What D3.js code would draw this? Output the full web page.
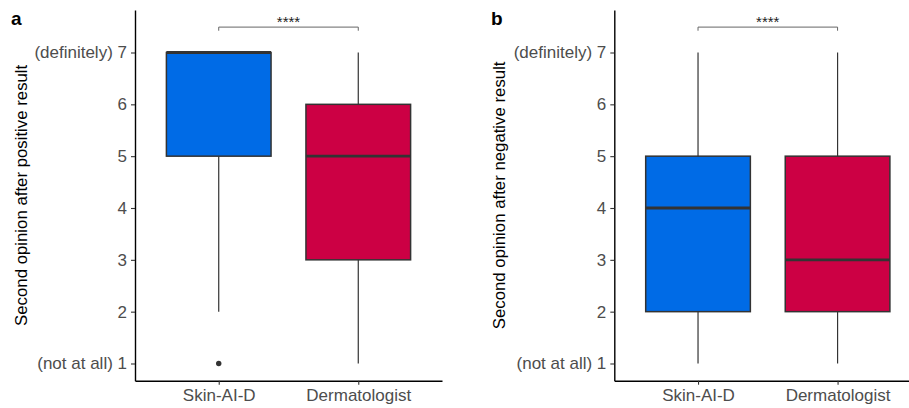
<!DOCTYPE html>
<html>
<head>
<meta charset="utf-8">
<script src="https://cdn.jsdelivr.net/npm/d3@7"></script>
<style>
  body { margin: 0; background: #fff; }
  svg { display: block; font-family: "Liberation Sans", Arial, sans-serif; }
</style>
</head>
<body>
<svg id="chart" width="909" height="408"></svg>
<script>
// groups on the x axis
const categories = ["Skin-AI-D", "Dermatologist"];
const fills = ["#006BE6", "#CC0044"];
const yTicks = [1, 2, 3, 4, 5, 6, 7];
const tickNames = {7: "(definitely) 7", 1: "(not at all) 1"};

// panel a : after positive result
const posLow = [2, 1];
const posQ1 = [5, 3];
const posMedian = [7, 5];
const posQ3 = [7, 6];
const posHigh = [7, 7];
const posOutliers = [[1], []];

// panel b : after negative result
const negLow = [1, 1];
const negQ1 = [2, 2];
const negMedian = [4, 3];
const negQ3 = [5, 5];
const negHigh = [7, 7];
const negOutliers = [[], []];

const svg = d3.select("#chart");

function drawPanel(opts) {
  const left = opts.left, top = 10, bottom = 380.7, width = 307;
  const g = svg.append("g");

  const x = d3.scalePoint().domain(categories).range([left, left + width]).padding(0.6);
  const y = d3.scaleLinear().domain([0.668, 7.82]).range([bottom, top]);
  const boxW = x.step() * 0.75;

  const data = categories.map((c, i) => ({
    cat: c, fill: fills[i], low: opts.low[i], q1: opts.q1[i], med: opts.median[i],
    q3: opts.q3[i], high: opts.high[i], out: opts.outliers[i]
  }));

  const grp = g.selectAll(".box").data(data).enter().append("g").attr("class", "box");

  // whiskers
  grp.append("line")
    .attr("x1", d => x(d.cat)).attr("x2", d => x(d.cat))
    .attr("y1", d => y(d.q3)).attr("y2", d => y(d.high))
    .attr("stroke", "#333").attr("stroke-width", 1.2);
  grp.append("line")
    .attr("x1", d => x(d.cat)).attr("x2", d => x(d.cat))
    .attr("y1", d => y(d.q1)).attr("y2", d => y(d.low))
    .attr("stroke", "#333").attr("stroke-width", 1.2);

  // boxes
  grp.append("rect")
    .attr("x", d => x(d.cat) - boxW / 2)
    .attr("y", d => y(d.q3))
    .attr("width", boxW)
    .attr("height", d => y(d.q1) - y(d.q3))
    .attr("fill", d => d.fill)
    .attr("stroke", "#333").attr("stroke-width", 1.5);

  // medians
  grp.append("line")
    .attr("x1", d => x(d.cat) - boxW / 2).attr("x2", d => x(d.cat) + boxW / 2)
    .attr("y1", d => y(d.med)).attr("y2", d => y(d.med))
    .attr("stroke", "#333").attr("stroke-width", 2.8);

  // outliers
  grp.selectAll(".out").data(d => d.out.map(v => ({cat: d.cat, v: v}))).enter()
    .append("circle")
    .attr("cx", d => x(d.cat)).attr("cy", d => y(d.v)).attr("r", 2.7)
    .attr("fill", "#333");

  // axes
  const yAxis = d3.axisLeft(y).tickValues(yTicks).tickSize(4).tickPadding(4).tickSizeOuter(0)
    .tickFormat(d => tickNames[d] || d);
  const ya = g.append("g").attr("transform", "translate(" + left + ",0)").call(yAxis);
  const xAxis = d3.axisBottom(x).tickSize(4).tickPadding(4).tickSizeOuter(0);
  const xa = g.append("g").attr("transform", "translate(0," + bottom + ")").call(xAxis);

  [ya, xa].forEach(a => {
    a.select(".domain").attr("stroke", "#000").attr("stroke-width", 1.4);
    a.selectAll(".tick line").attr("stroke", "#333").attr("stroke-width", 1.1);
    a.selectAll(".tick text").attr("fill", "#4d4d4d").style("font-size", "17px")
      .style("font-family", "'Liberation Sans', Arial, sans-serif");
  });

  // significance bracket
  const bY = y(7.49), bT = y(7.42);
  g.append("path")
    .attr("d", "M" + x(categories[0]) + "," + bT + "V" + bY + "H" + x(categories[1]) + "V" + bT)
    .attr("fill", "none").attr("stroke", "#666").attr("stroke-width", 1);
  g.append("text")
    .attr("x", (x(categories[0]) + x(categories[1])) / 2)
    .attr("y", bY - 0.5)
    .attr("text-anchor", "middle")
    .style("font-size", "15px").attr("fill", "#222")
    .text("****");

  // y label
  g.append("text")
    .attr("transform", "translate(" + (opts.titleX) + "," + ((top + bottom) / 2) + ") rotate(-90)")
    .attr("text-anchor", "middle")
    .style("font-size", "16.8px").attr("fill", "#000")
    .text(opts.title);

  // panel letter
  g.append("text")
    .attr("x", opts.letterX).attr("y", 25)
    .style("font-size", "19px").style("font-weight", "bold").attr("fill", "#000")
    .text(opts.letter);
}

drawPanel({
  left: 135, titleX: 27, letterX: 11, letter: "a",
  title: "Second opinion after positive result",
  low: posLow, q1: posQ1, median: posMedian, q3: posQ3, high: posHigh, outliers: posOutliers
});

drawPanel({
  left: 614.3, titleX: 505, letterX: 491, letter: "b",
  title: "Second opinion after negative result",
  low: negLow, q1: negQ1, median: negMedian, q3: negQ3, high: negHigh, outliers: negOutliers
});
</script>
</body>
</html>
